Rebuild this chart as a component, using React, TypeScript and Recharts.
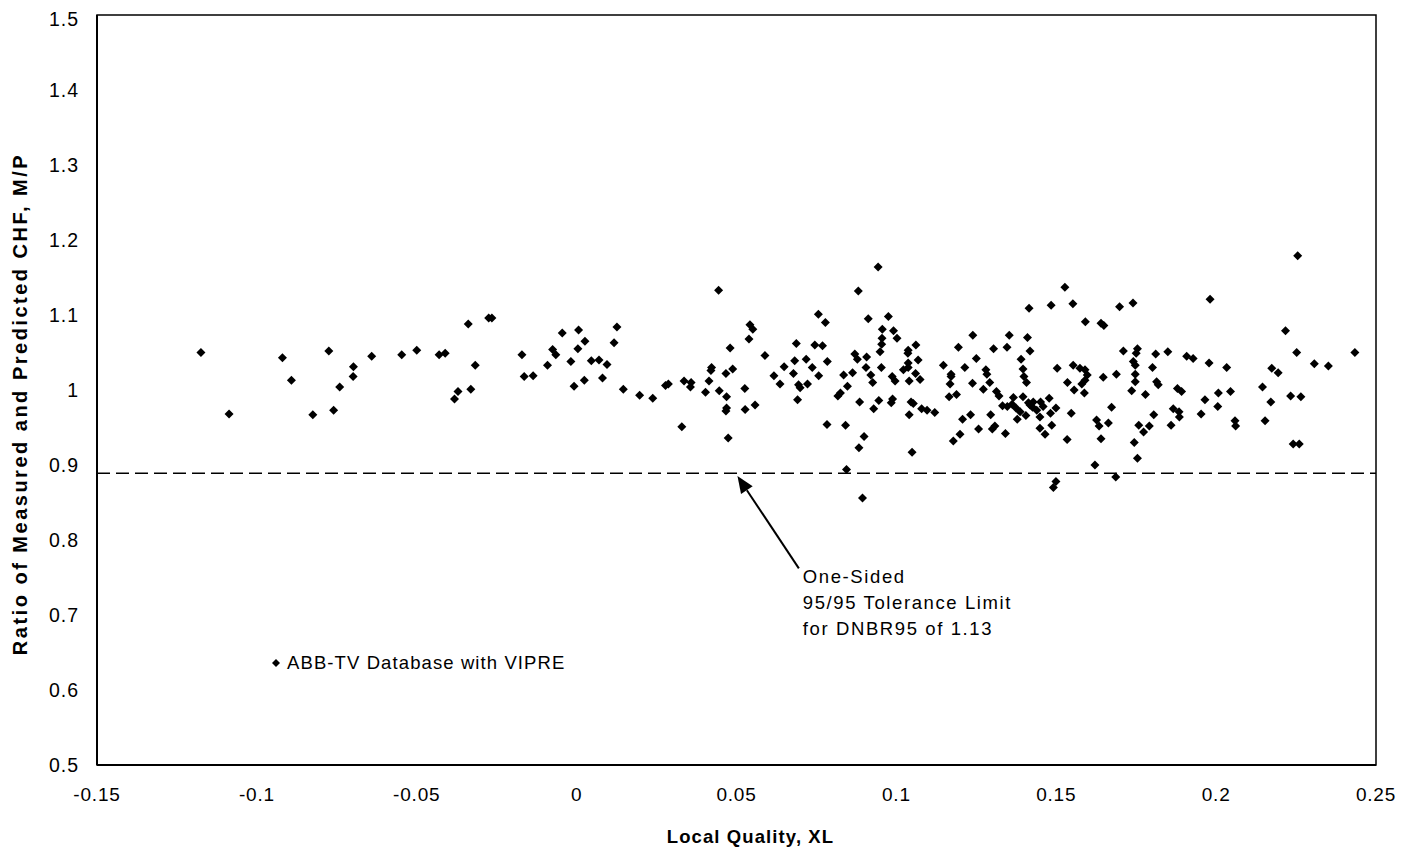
import {
  ScatterChart,
  Scatter,
  XAxis,
  YAxis,
  ReferenceLine,
  ReferenceArea,
  Legend,
} from "recharts";

const FONT = '"Liberation Sans", Arial, Helvetica, sans-serif';

const pointsLow: [number, number][] = [
  [-0.1175, 1.05], [-0.1087, 0.968], [-0.092, 1.043], [-0.0892, 1.013], [-0.0825, 0.967],
  [-0.0775, 1.052], [-0.076, 0.973], [-0.0741, 1.004], [-0.0698, 1.031], [-0.0699, 1.018],
  [-0.0641, 1.045], [-0.0547, 1.047], [-0.05, 1.053], [-0.043, 1.047], [-0.0411, 1.049],
  [-0.0339, 1.088], [-0.0382, 0.988], [-0.0371, 0.998], [-0.0331, 1.001], [-0.0317, 1.033],
  [-0.0275, 1.096], [-0.0265, 1.096], [-0.0171, 1.047], [-0.0164, 1.018], [-0.0136, 1.019],
  [-0.0091, 1.033], [-0.0075, 1.054], [-0.0065, 1.047], [-0.0045, 1.076], [-0.0018, 1.038],
  [-0.0008, 1.005], [0.0006, 1.08], [0.0004, 1.055], [0.0026, 1.065], [0.0024, 1.013],
  [0.0046, 1.039], [0.007, 1.04], [0.0095, 1.034], [0.0081, 1.016], [0.0117, 1.063],
  [0.0126, 1.084], [0.0146, 1.001], [0.0197, 0.993], [0.0238, 0.989], [0.0278, 1.006],
  [0.0287, 1.008], [0.0329, 0.951], [0.0336, 1.012], [0.0358, 1.01], [0.0356, 1.004],
  [0.0403, 0.997], [0.0414, 1.012], [0.0422, 1.03], [0.042, 1.026], [0.0444, 1.133],
  [0.0446, 0.999], [0.0467, 1.022], [0.0469, 0.991], [0.0469, 0.976], [0.0467, 0.972],
  [0.0474, 0.936], [0.048, 1.056], [0.0488, 1.028],
];

const pointsMid: [number, number][] = [
  [0.0526, 1.002], [0.0527, 0.974], [0.0558, 0.98], [0.0539, 1.068], [0.0542, 1.087],
  [0.0551, 1.081], [0.0589, 1.046], [0.0617, 1.019], [0.0636, 1.008], [0.0649, 1.031],
  [0.0678, 1.022], [0.0682, 1.039], [0.0687, 1.062], [0.0691, 0.987], [0.0694, 1.007],
  [0.0699, 1.003], [0.0718, 1.041], [0.0722, 1.008], [0.0737, 1.03], [0.0745, 1.06],
  [0.0769, 1.059], [0.0756, 1.101], [0.0778, 1.09], [0.0757, 1.019], [0.0784, 1.038],
  [0.0783, 0.954], [0.0817, 0.992], [0.0825, 0.996], [0.0835, 1.02], [0.0847, 1.005],
  [0.0841, 0.953], [0.0844, 0.894], [0.0863, 1.023], [0.087, 1.048], [0.0878, 1.041],
  [0.0881, 1.132], [0.0885, 0.984], [0.0899, 0.938], [0.0883, 0.923], [0.0894, 0.856],
  [0.0905, 1.03], [0.0907, 1.044], [0.0912, 1.095], [0.092, 1.02], [0.0926, 1.01],
  [0.0929, 0.975], [0.0943, 1.164], [0.0945, 0.986], [0.0949, 1.051], [0.0953, 1.03],
  [0.0954, 1.061], [0.0955, 1.069], [0.0956, 1.081], [0.0975, 1.098], [0.0984, 0.983],
  [0.0988, 0.988], [0.0987, 1.018], [0.0996, 1.012], [0.0991, 1.079], [0.1002, 1.069],
  [0.1022, 1.027], [0.1037, 1.03], [0.1037, 1.053], [0.1036, 1.049], [0.1037, 1.036],
  [0.1061, 1.06], [0.1068, 1.04], [0.106, 1.022], [0.1074, 1.014], [0.104, 1.012],
  [0.1046, 0.984], [0.1053, 0.982], [0.104, 0.967], [0.1049, 0.917], [0.1079, 0.975],
  [0.1096, 0.973], [0.112, 0.97], [0.1147, 1.033], [0.1171, 1.021], [0.1171, 1.018],
  [0.1168, 1.008], [0.1165, 0.991], [0.1188, 0.994], [0.1194, 1.057], [0.1214, 1.03],
  [0.1238, 1.009], [0.1239, 1.073], [0.125, 1.042], [0.1207, 0.961], [0.1232, 0.967],
  [0.1178, 0.932], [0.1199, 0.941], [0.1272, 1.001], [0.128, 1.027], [0.1283, 1.021],
  [0.1292, 1.01], [0.1257, 0.948], [0.1295, 0.967], [0.13, 0.948], [0.1308, 0.952],
  [0.1304, 1.055], [0.1313, 0.998], [0.1321, 0.992],
];

const pointsCluster: [number, number][] = [
  [0.1332, 0.979], [0.1347, 0.978], [0.1341, 0.942], [0.1346, 1.057], [0.1353, 1.073],
  [0.1366, 0.99], [0.1374, 0.976], [0.1387, 0.971], [0.1378, 0.961], [0.139, 1.041],
  [0.1396, 1.028], [0.1399, 1.018], [0.1407, 1.01], [0.1396, 0.991], [0.1405, 0.966],
  [0.1415, 1.109], [0.141, 1.07], [0.1418, 1.052], [0.1418, 0.98], [0.1428, 0.984],
  [0.1413, 0.983], [0.1426, 0.977], [0.1439, 0.973], [0.1451, 0.984], [0.1449, 0.964],
  [0.1449, 0.949], [0.1465, 0.941], [0.1459, 0.978], [0.1478, 0.989], [0.1482, 0.969],
  [0.1486, 0.953], [0.1499, 0.976], [0.1362, 0.981],
];

const pointsHigh: [number, number][] = [
  [0.1484, 1.113], [0.1527, 1.137], [0.1552, 1.115], [0.1591, 1.091], [0.164, 1.089],
  [0.1649, 1.086], [0.1698, 1.111], [0.174, 1.116], [0.1503, 1.029], [0.1535, 1.01],
  [0.1534, 0.934], [0.1547, 0.969], [0.1553, 1.033], [0.1556, 1.0], [0.1574, 1.029],
  [0.159, 1.027], [0.1597, 1.02], [0.159, 1.013], [0.158, 1.008], [0.1588, 0.996],
  [0.1491, 0.87], [0.1499, 0.878], [0.1621, 0.9], [0.1626, 0.96], [0.1634, 0.952],
  [0.164, 0.935], [0.1647, 1.017], [0.1663, 0.956], [0.1673, 0.977], [0.1686, 0.884],
  [0.1688, 1.021], [0.171, 1.052], [0.1736, 0.999], [0.1741, 1.038], [0.1747, 1.033],
  [0.1747, 1.021], [0.1747, 1.011], [0.1754, 1.055], [0.175, 1.049], [0.1744, 0.93],
  [0.1754, 0.909], [0.1758, 0.953], [0.1773, 0.944], [0.1779, 0.994], [0.1791, 0.952],
  [0.1801, 1.03], [0.1805, 0.967], [0.1811, 1.048], [0.1814, 1.011], [0.1819, 1.007],
  [0.1849, 1.051], [0.1859, 0.953], [0.1866, 0.975], [0.1884, 0.971], [0.1885, 0.964],
  [0.1879, 1.002], [0.1892, 0.998], [0.1908, 1.045], [0.1928, 1.042], [0.1953, 0.968],
  [0.1965, 0.987], [0.1978, 1.036], [0.1981, 1.121], [0.2005, 0.978], [0.2007, 0.996],
  [0.2033, 1.03], [0.2045, 0.998], [0.2059, 0.959], [0.2061, 0.952], [0.2145, 1.004],
  [0.2153, 0.959], [0.2171, 0.984], [0.2174, 1.029], [0.2194, 1.023], [0.2217, 1.079],
  [0.2233, 0.992], [0.2252, 1.05], [0.2255, 1.179], [0.2265, 0.991], [0.2241, 0.928],
  [0.226, 0.928], [0.2307, 1.035], [0.2351, 1.032], [0.2434, 1.05],
];

const xTicks = [-0.15, -0.1, -0.05, 0, 0.05, 0.1, 0.15, 0.2, 0.25];
const yTicks = [0.5, 0.6, 0.7, 0.8, 0.9, 1, 1.1, 1.2, 1.3, 1.4, 1.5];

const toleranceLimit = 0.889;
const annotationLines = ["One-Sided", "95/95 Tolerance Limit", "for DNBR95 of 1.13"];
// arrow from the note up to the tolerance line
const arrowTail = { x: 0.0695, y: 0.7622 };
const arrowTip = { x: 0.0503, y: 0.8853 };

const data = [...pointsLow, ...pointsMid, ...pointsCluster, ...pointsHigh].map(([x, y]) => ({ x, y }));

const Diamond = (props: any) => {
  const { cx, cy } = props;
  const r = 4.5;
  return (
    <polygon
      points={`${cx},${cy - r} ${cx + r},${cy} ${cx},${cy + r} ${cx - r},${cy}`}
      fill="#000"
    />
  );
};

const Arrow = (props: any) => {
  const { x1, y1, x2, y2 } = props;
  const dx = x2 - x1;
  const dy = y2 - y1;
  const len = Math.sqrt(dx * dx + dy * dy);
  const ux = dx / len;
  const uy = dy / len;
  const headLen = 17;
  const headW = 7;
  const bx = x2 - ux * headLen;
  const by = y2 - uy * headLen;
  return (
    <g>
      <line x1={x1} y1={y1} x2={bx} y2={by} stroke="#000" strokeWidth={2} />
      <polygon
        points={`${x2},${y2} ${bx - uy * headW},${by + ux * headW} ${bx + uy * headW},${by - ux * headW}`}
        fill="#000"
      />
      <text x={x1 + 4} y={y1} fontFamily={FONT} fontSize={18.5} letterSpacing={1.6} fill="#000">
        {annotationLines.map((line, i) => (
          <tspan key={i} x={x1 + 4} dy={i === 0 ? 15 : 26}>
            {line}
          </tspan>
        ))}
      </text>
    </g>
  );
};

const YTitle = (props: any) => {
  const { viewBox } = props;
  const x = viewBox.x + 19;
  const y = viewBox.y + viewBox.height / 2 + 14;
  return (
    <text
      x={x}
      y={y}
      transform={`rotate(-90, ${x}, ${y})`}
      textAnchor="middle"
      fontFamily={FONT}
      fontSize={20}
      fontWeight="bold"
      letterSpacing={2.5}
      fill="#000"
    >
      Ratio of Measured and Predicted CHF, M/P
    </text>
  );
};

const renderLegend = () => (
  <div
    style={{
      display: "flex",
      alignItems: "center",
      fontFamily: FONT,
      fontSize: 18.5,
      letterSpacing: 1.1,
      color: "#000",
      whiteSpace: "nowrap",
    }}
  >
    <svg width={8} height={8} style={{ marginRight: 7 }}>
      <polygon points="4,0 8,4 4,8 0,4" fill="#000" />
    </svg>
    <span>ABB-TV Database with VIPRE</span>
  </div>
);

export default function App() {
  return (
    <div style={{ width: 1400, height: 845, background: "#fff" }}>
      <ScatterChart width={1400} height={845} margin={{ top: 7, right: 32, bottom: 8, left: 0 }}>
        <ReferenceArea
          x1={-0.15}
          x2={0.25}
          y1={0.5}
          y2={1.5}
          fill="none"
          stroke="#000"
          strokeWidth={1.5}
          fillOpacity={0}
        />
        <XAxis
          type="number"
          dataKey="x"
          domain={[-0.15, 0.25]}
          ticks={xTicks}
          allowDataOverflow
          tickLine={false}
          tickMargin={17}
          height={80}
          axisLine={{ stroke: "#000", strokeWidth: 2 }}
          tick={{ fill: "#000", fontSize: 19, fontFamily: FONT, letterSpacing: 0.8 }}
          label={{
            value: "Local Quality, XL",
            position: "insideBottom",
            offset: 2,
            dx: 14,
            style: { fill: "#000", fontSize: 18.5, fontWeight: "bold", fontFamily: FONT, letterSpacing: 1.1 },
          }}
        />
        <YAxis
          type="number"
          dataKey="y"
          domain={[0.5, 1.5]}
          ticks={yTicks}
          allowDataOverflow
          tickLine={false}
          tickMargin={12}
          width={89}
          axisLine={{ stroke: "#000", strokeWidth: 2 }}
          tick={{ fill: "#000", fontSize: 19.5, fontFamily: FONT, letterSpacing: 1 }}
          label={YTitle}
        />
        <ReferenceLine
          y={toleranceLimit}
          stroke="#000"
          strokeWidth={1.5}
          strokeDasharray="13 6"
        />
        <ReferenceLine segment={[arrowTail, arrowTip]} shape={Arrow} />
        <Legend
          content={renderLegend}
          layout="horizontal"
          verticalAlign="middle"
          wrapperStyle={{ left: 264, top: 644, width: "auto" }}
        />
        <Scatter
          name="ABB-TV Database with VIPRE"
          data={data}
          shape={Diamond}
          isAnimationActive={false}
        />
      </ScatterChart>
    </div>
  );
}
